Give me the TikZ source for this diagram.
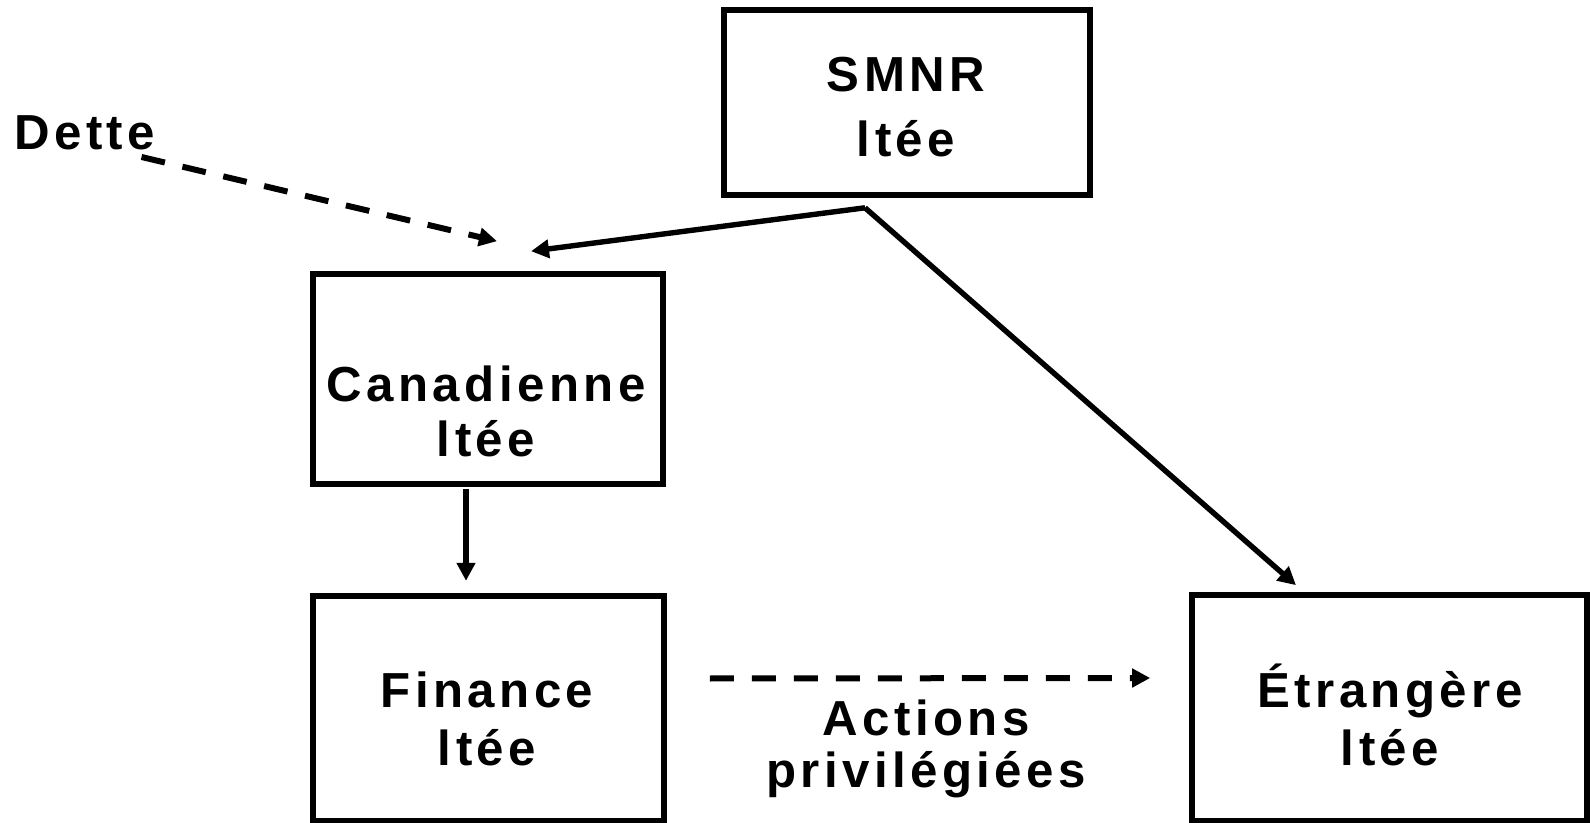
\documentclass[tikz,border=0pt]{standalone}
\usepackage{fontspec}
\setmainfont{Liberation Sans}[LetterSpace=9]
\usepackage{tikz}
\usetikzlibrary{arrows.meta,calc,positioning}

\tikzstyle{entite}=[draw, rectangle, line width=2.8pt, inner sep=0pt]
\tikzstyle{nom}=[font=\bfseries\fontsize{24.6}{29}\selectfont, align=center, inner sep=0pt, anchor=base]
\tikzstyle{lien}=[line width=2.7pt, -{Triangle[length=9pt,width=9pt]}]
\tikzstyle{transfert}=[lien, line width=3pt, dash pattern=on 12pt off 9pt]

\begin{document}
\begin{tikzpicture}[x=0.5pt, y=-0.5pt]
\useasboundingbox (0,0) rectangle (1591,823);

% societes
\node[entite, minimum width=183pt, minimum height=92.5pt] (smnr) at (907,102.5) {};
\node[entite, minimum width=175pt, minimum height=105pt] (can) at (488,379) {};
\node[entite, minimum width=175.5pt, minimum height=112.5pt] (fin) at (488.5,708.5) {};
\node[entite, minimum width=197.5pt, minimum height=113pt] (etr) at (1389.5,708) {};

\node[nom, font=\bfseries\fontsize{24.6}{32.5}\selectfont] (smnr-nom) at (906,157) {SMNR\\ltée};
\node[nom, font=\bfseries\fontsize{24.6}{27.5}\selectfont] (can-nom) at (486,457) {Canadienne\\ltée};
\node[nom] (fin-nom) at (487,765) {Finance\\ltée};
\node[nom] (etr-nom) at (1390,765) {Étrangère\\ltée};

% participations
\coordinate (fourche) at ($(smnr.south)+(-42,10)$);
\draw[lien] (fourche) -- ($(can.north)+(43,-20)$);
\draw[lien] (fourche) -- ($(etr.north)+(-93.5,-7)$);
\draw[lien] ($(can.south)+(-22,2)$) -- ++(0,92);

% dette
\node[nom, anchor=base west] (dette) at (14,150) {Dette};
\coordinate (dette-pied) at ($(dette.base east)+(-14,7)$);
\draw[transfert] (dette-pied) -- ($(can.north)+(9,-30)$);

% actions privilegiees
\coordinate (act-dep) at ($(fin.east)+(43,-30)$);
\coordinate (act-arr) at ($(etr.west)+(-39,-30)$);
\draw[transfert] (act-dep) -- (act-arr);
\node[nom, font=\bfseries\fontsize{24.6}{26}\selectfont] (actions) at (926,787) {Actions\\privilégiées};

\end{tikzpicture}
\end{document}
